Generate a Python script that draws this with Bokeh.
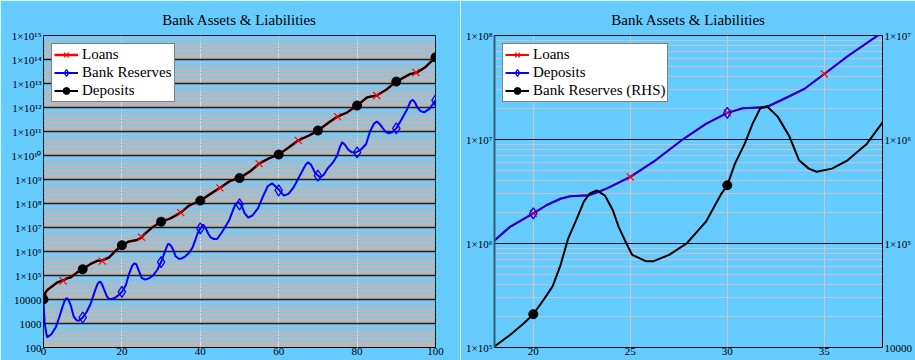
from bokeh.plotting import figure
from bokeh.models import Range1d, FixedTicker, LogAxis, LogScale, Legend, LegendItem
from bokeh.layouts import row
from bokeh.embed import file_html
from bokeh.resources import INLINE

FONT = "Liberation Serif"
PAGE_BG = "#66CCFF"
TITLE = "Bank Assets & Liabilities"

# ======================= LEFT PANEL (values stored as log10 exponents) =======================
left_x_ticks = [0, 20, 40, 60, 80, 100]
left_y_ticks = [1e2, 1e3, 1e4, 1e5, 1e6, 1e7, 1e8, 1e9, 1e10, 1e11, 1e12, 1e13, 1e14, 1e15]
left_y_tick_labels = ["100", "1000", "10000", "1×10⁵", "1×10⁶", "1×10⁷", "1×10⁸", "1×10⁹",
                      "1×10¹⁰", "1×10¹¹", "1×10¹²", "1×10¹³", "1×10¹⁴", "1×10¹⁵"]

# Deposits (black line) and Loans (red line underneath, same path)
dep_x = [0, 0.5, 1, 1.8, 2.5, 3.5, 5, 6, 7, 8.6, 10, 12, 13.7, 15, 16.7, 18.4, 20, 21.8, 23.9,
         25, 25.6, 27.7, 30, 32.4, 35, 37.1, 40, 42.6, 45, 47.7, 50, 52.8, 55, 57.5, 60, 62.6,
         65, 67.7, 70, 72.8, 75, 77.5, 80, 82.6, 85, 87.5, 90, 93.6, 95.2, 97.4, 100]
dep_exp = [4.0, 4.29, 4.4, 4.5, 4.58, 4.71, 4.8, 4.88, 4.93, 5.13, 5.26, 5.48, 5.61, 5.63, 5.75,
           6.03, 6.26, 6.42, 6.48, 6.58, 6.70, 7.0, 7.24, 7.38, 7.62, 7.91, 8.12, 8.40, 8.65,
           8.95, 9.06, 9.35, 9.66, 9.88, 10.04, 10.34, 10.63, 10.83, 11.04, 11.38, 11.62, 11.80,
           12.08, 12.43, 12.50, 12.75, 13.08, 13.40, 13.45, 13.68, 14.09]
loans_x = dep_x
loans_exp = dep_exp

dep_mark_x = [0, 10, 20, 30, 40, 50, 60, 70, 80, 90, 100]
dep_mark_exp = [4.0, 5.26, 6.26, 7.24, 8.12, 9.06, 10.04, 11.04, 12.08, 13.08, 14.09]
loans_mark_x = [0, 5, 10, 15, 20, 25, 30, 35, 40, 45, 50, 55, 60, 65, 70, 75, 80, 85, 90, 95, 100]
loans_mark_exp = [4.05, 4.78, 5.26, 5.6, 6.26, 6.6, 7.24, 7.62, 8.12, 8.65, 9.06, 9.66, 10.04,
                  10.63, 11.04, 11.62, 12.08, 12.5, 13.08, 13.46, 14.09]

# Bank reserves (blue)
res_x = [0, 0.3, 0.9, 2, 3.1, 4, 4.8, 5.4, 5.9, 6.4, 6.9, 7.7, 8.4, 9, 10, 11, 12, 13.3, 13.9,
         14.4, 14.9, 15.4, 16.2, 16.7, 17.5, 18.4, 19.5, 20, 21, 21.8, 22.6, 23.2, 23.7, 24.4,
         25.1, 26, 27, 28, 29, 30, 30.9, 31.7, 32.04, 32.6, 33.2, 33.7, 34.6, 35.4, 36.2, 37.2,
         38.1, 39.3, 40, 40.7, 41.3, 42, 42.6, 43.5, 44.3, 45.5, 47.3, 48.3, 49, 49.8, 50.5,
         51.3, 52.2, 53.3, 54.7, 56, 57.2, 58.3, 59.3, 60.3, 61.3, 62.5, 63.7, 64.7, 66, 66.9,
         67.5, 68.3, 69.2, 70, 70.7, 71.5, 72.4, 73.8, 74.9, 75.6, 76.2, 76.9, 77.7, 78.5, 79.6,
         81, 82.3, 83.3, 84.3, 85, 85.7, 86.4, 87.2, 88.1, 89, 90, 91.5, 92.8, 93.6, 94.2, 94.8,
         95.3, 96.2, 97.1, 98.5, 100]
res_exp = [3.9, 3.0, 2.42, 2.55, 2.83, 3.25, 3.67, 3.95, 4.06, 3.98, 3.78, 3.3, 3.14, 3.11, 3.25,
           3.48, 3.81, 4.44, 4.68, 4.75, 4.65, 4.44, 4.12, 4.03, 4.02, 4.09, 4.23, 4.32, 4.59,
           5.05, 5.40, 5.51, 5.46, 5.16, 4.89, 4.83, 4.89, 5.01, 5.23, 5.56, 5.96, 6.30, 6.32,
           6.22, 6.03, 5.80, 5.69, 5.72, 5.80, 5.96, 6.19, 6.75, 6.96, 7.12, 7.0, 6.75, 6.59,
           6.52, 6.52, 6.8, 7.28, 7.7, 7.98, 8.06, 7.92, 7.6, 7.41, 7.5, 7.8, 8.3, 8.72, 8.84,
           8.7, 8.53, 8.33, 8.4, 8.65, 8.95, 9.35, 9.62, 9.72, 9.6, 9.3, 9.16, 9.09, 9.2, 9.44,
           9.7, 9.99, 10.35, 10.55, 10.45, 10.25, 10.15, 10.12, 10.25, 10.48, 11.0, 11.32, 11.42,
           11.32, 11.17, 11.0, 10.92, 10.98, 11.13, 11.55, 11.94, 12.25, 12.32, 12.2, 12.02,
           11.85, 11.8, 11.95, 12.3]
res_mark_x = [10, 20, 30, 40, 50, 60, 70, 80, 90, 100]
res_mark_exp = [3.25, 4.32, 5.56, 6.96, 7.96, 8.55, 9.16, 10.13, 11.13, 12.3]

# ======================= RIGHT PANEL =======================
right_x_ticks = [20, 25, 30, 35]
right_y_ticks = [1e5, 1e6, 1e7, 1e8]
right_y_tick_labels = ["1×10⁵", "1×10⁶", "1×10⁷", "1×10⁸"]
rhs_y_ticks = [1e4, 1e5, 1e6, 1e7]
rhs_y_tick_labels = ["10000", "1×10⁵", "1×10⁶", "1×10⁷"]

rdep_x = [18, 18.8, 20, 20.7, 21.4, 21.9, 22.9, 23.4, 23.8, 25, 26.3, 27.7, 28.9, 30, 30.8,
          32.0, 32.8, 34.0, 35.0, 36.2, 37.76, 38]
rdep_exp = [6.03, 6.16, 6.29, 6.37, 6.43, 6.455, 6.465, 6.50, 6.53, 6.64, 6.80, 7.0, 7.15,
            7.256, 7.30, 7.31, 7.38, 7.49, 7.63, 7.80, 8.0, 8.03]
rloans_x = rdep_x
rloans_exp = rdep_exp
rloans_mark_x = [20, 25, 30, 35]
rloans_mark_exp = [6.29, 6.64, 7.256, 7.63]
rdep_mark_x = [20, 30]
rdep_mark_exp = [6.29, 7.256]

# bank reserves, right-hand scale
rres_x = [18, 18.8, 19.5, 20, 20.5, 21, 21.4, 21.8, 22.2, 22.6, 22.9, 23.26, 23.7, 24.1, 24.4,
          24.8, 25.1, 25.8, 26.2, 27, 27.9, 28.9, 29.7, 30, 30.4, 30.9, 31.3, 31.7, 32.04,
          32.6, 33.2, 33.7, 34.2, 34.6, 35.4, 36.2, 37.2, 38.1]
rres_exp = [4.01, 4.12, 4.23, 4.32, 4.45, 4.59, 4.79, 5.05, 5.22, 5.40, 5.48, 5.51, 5.46, 5.32,
            5.16, 5.0, 4.89, 4.83, 4.83, 4.89, 5.0, 5.21, 5.48, 5.56, 5.77, 5.96, 6.15, 6.30,
            6.32, 6.22, 6.03, 5.80, 5.72, 5.69, 5.72, 5.80, 5.96, 6.19]
rres_mark_x = [20, 30]
rres_mark_exp = [4.32, 5.56]


def p10(a):
    return [10.0 ** v for v in a]


def minor_log(lo, hi):
    return [k * 10.0 ** d for d in range(lo, hi) for k in range(2, 10)]


def style_axis(ax, standoff=2):
    ax.major_tick_line_color = None
    ax.minor_tick_line_color = None
    ax.major_tick_out = 0
    ax.major_tick_in = 0
    ax.minor_tick_out = 0
    ax.minor_tick_in = 0
    ax.major_label_text_font = FONT
    ax.major_label_text_font_size = "11px"
    ax.major_label_text_color = "black"
    ax.major_label_standoff = standoff


def style_xaxis(ax):
    style_axis(ax, standoff=0)
    ax.major_label_text_line_height = 0.8
    ax.axis_line_color = None


def style_title(p):
    p.title.text = TITLE
    p.title.text_font = FONT
    p.title.text_font_size = "15px"
    p.title.text_font_style = "normal"
    p.title.text_color = "black"
    p.title.align = "center"
    p.title.standoff = 15


def make_legend(items):
    lg = Legend(items=items, location="top_left")
    lg.label_text_font = FONT
    lg.label_text_font_size = "15px"
    lg.label_text_color = "black"
    lg.border_line_color = "black"
    lg.border_line_width = 1
    lg.background_fill_color = "white"
    lg.background_fill_alpha = 1.0
    lg.padding = 2
    lg.margin = 8
    lg.spacing = 1
    lg.glyph_width = 24
    lg.glyph_height = 17
    lg.label_height = 17
    lg.label_standoff = 4
    return lg


# ---------------- left figure ----------------
p1 = figure(width=460, height=360, x_range=Range1d(0, 100), y_range=Range1d(1e2, 1e15),
            y_axis_type="log", output_backend="svg", toolbar_location=None,
            min_border_left=43, min_border_right=25, min_border_top=35, min_border_bottom=13,
            background_fill_color="#B8B8B8", border_fill_color=PAGE_BG,
            outline_line_color="black", outline_line_width=1)
style_title(p1)
p1.yaxis.ticker = FixedTicker(ticks=left_y_ticks, minor_ticks=minor_log(2, 15))
p1.yaxis.major_label_overrides = dict(zip(left_y_ticks, left_y_tick_labels))
p1.xaxis.ticker = FixedTicker(ticks=left_x_ticks)
style_xaxis(p1.xaxis[0])
style_axis(p1.yaxis[0])
p1.yaxis.axis_line_color = None
p1.ygrid.grid_line_color = "#1E1E1E"
p1.ygrid.grid_line_width = 1.5
p1.ygrid.minor_grid_line_color = "#6FCBFF"
p1.ygrid.minor_grid_line_width = 1
p1.xgrid.ticker = FixedTicker(ticks=[20, 40, 60, 80])
p1.xgrid.grid_line_color = "#DCDCDC"
p1.xgrid.grid_line_width = 1

l_loans = p1.line(loans_x, p10(loans_exp), line_color="red", line_width=2.5)
l_res = p1.line(res_x, p10(res_exp), line_color="blue", line_width=2)
l_dep = p1.line(dep_x, p10(dep_exp), line_color="black", line_width=2)
m_loans = p1.scatter(loans_mark_x, p10(loans_mark_exp), marker="x", size=10,
                     line_color="red", line_width=1.2)
m_res = p1.scatter(res_mark_x, p10(res_mark_exp), marker="diamond", size=11,
                   line_color="blue", fill_color=None, line_width=1.3)
m_dep = p1.scatter(dep_mark_x, p10(dep_mark_exp), marker="circle", size=9,
                   line_color="black", fill_color="black")
p1.add_layout(make_legend([
    LegendItem(label="Loans", renderers=[l_loans, m_loans]),
    LegendItem(label="Bank Reserves", renderers=[l_res, m_res]),
    LegendItem(label="Deposits", renderers=[l_dep, m_dep]),
]))

# ---------------- right figure ----------------
p2 = figure(width=455, height=360, x_range=Range1d(18, 38), y_range=Range1d(1e5, 1e8),
            y_axis_type="log", output_backend="svg", toolbar_location=None,
            min_border_left=34, min_border_right=29, min_border_top=35, min_border_bottom=13,
            background_fill_color=PAGE_BG, border_fill_color=PAGE_BG,
            outline_line_color="black", outline_line_width=1)
style_title(p2)
p2.extra_y_ranges = {"rhs": Range1d(1e4, 1e7)}
p2.extra_y_scales = {"rhs": LogScale()}
p2.yaxis.ticker = FixedTicker(ticks=right_y_ticks, minor_ticks=minor_log(5, 8))
p2.yaxis.major_label_overrides = dict(zip(right_y_ticks, right_y_tick_labels))
p2.xaxis.ticker = FixedTicker(ticks=right_x_ticks)
style_xaxis(p2.xaxis[0])
style_axis(p2.yaxis[0])
p2.yaxis.axis_line_color = "#2F5F7A"
p2.yaxis.axis_line_width = 2
rax = LogAxis(y_range_name="rhs", ticker=FixedTicker(ticks=rhs_y_ticks),
              major_label_overrides=dict(zip(rhs_y_ticks, rhs_y_tick_labels)))
style_axis(rax)
rax.axis_line_color = None
p2.add_layout(rax, "right")
p2.ygrid.grid_line_color = "black"
p2.ygrid.grid_line_width = 1
p2.ygrid.minor_grid_line_color = "#C4C4C4"
p2.ygrid.minor_grid_line_width = 1
p2.xgrid.ticker = FixedTicker(ticks=right_x_ticks)
p2.xgrid.grid_line_color = "#C8C8C8"

r_loans = p2.line(rloans_x, p10(rloans_exp), line_color="red", line_width=2)
r_dep = p2.line(rdep_x, p10(rdep_exp), line_color="#1500F0", line_width=2)
r_res = p2.line(rres_x, p10(rres_exp), line_color="black", line_width=2, y_range_name="rhs")
rm_loans = p2.scatter(rloans_mark_x, p10(rloans_mark_exp), marker="x", size=10,
                      line_color="red", line_width=1.2)
rm_dep = p2.scatter(rdep_mark_x, p10(rdep_mark_exp), marker="diamond", size=11,
                    line_color="blue", fill_color=None, line_width=1.3)
rm_res = p2.scatter(rres_mark_x, p10(rres_mark_exp), marker="circle", size=9,
                    line_color="black", fill_color="black", y_range_name="rhs")
p2.add_layout(make_legend([
    LegendItem(label="Loans", renderers=[r_loans, rm_loans]),
    LegendItem(label="Deposits", renderers=[r_dep, rm_dep]),
    LegendItem(label="Bank Reserves (RHS)", renderers=[r_res, rm_res]),
]))

layout = row(p1, p2)
open("out.html", "w").write(file_html(layout, INLINE))
